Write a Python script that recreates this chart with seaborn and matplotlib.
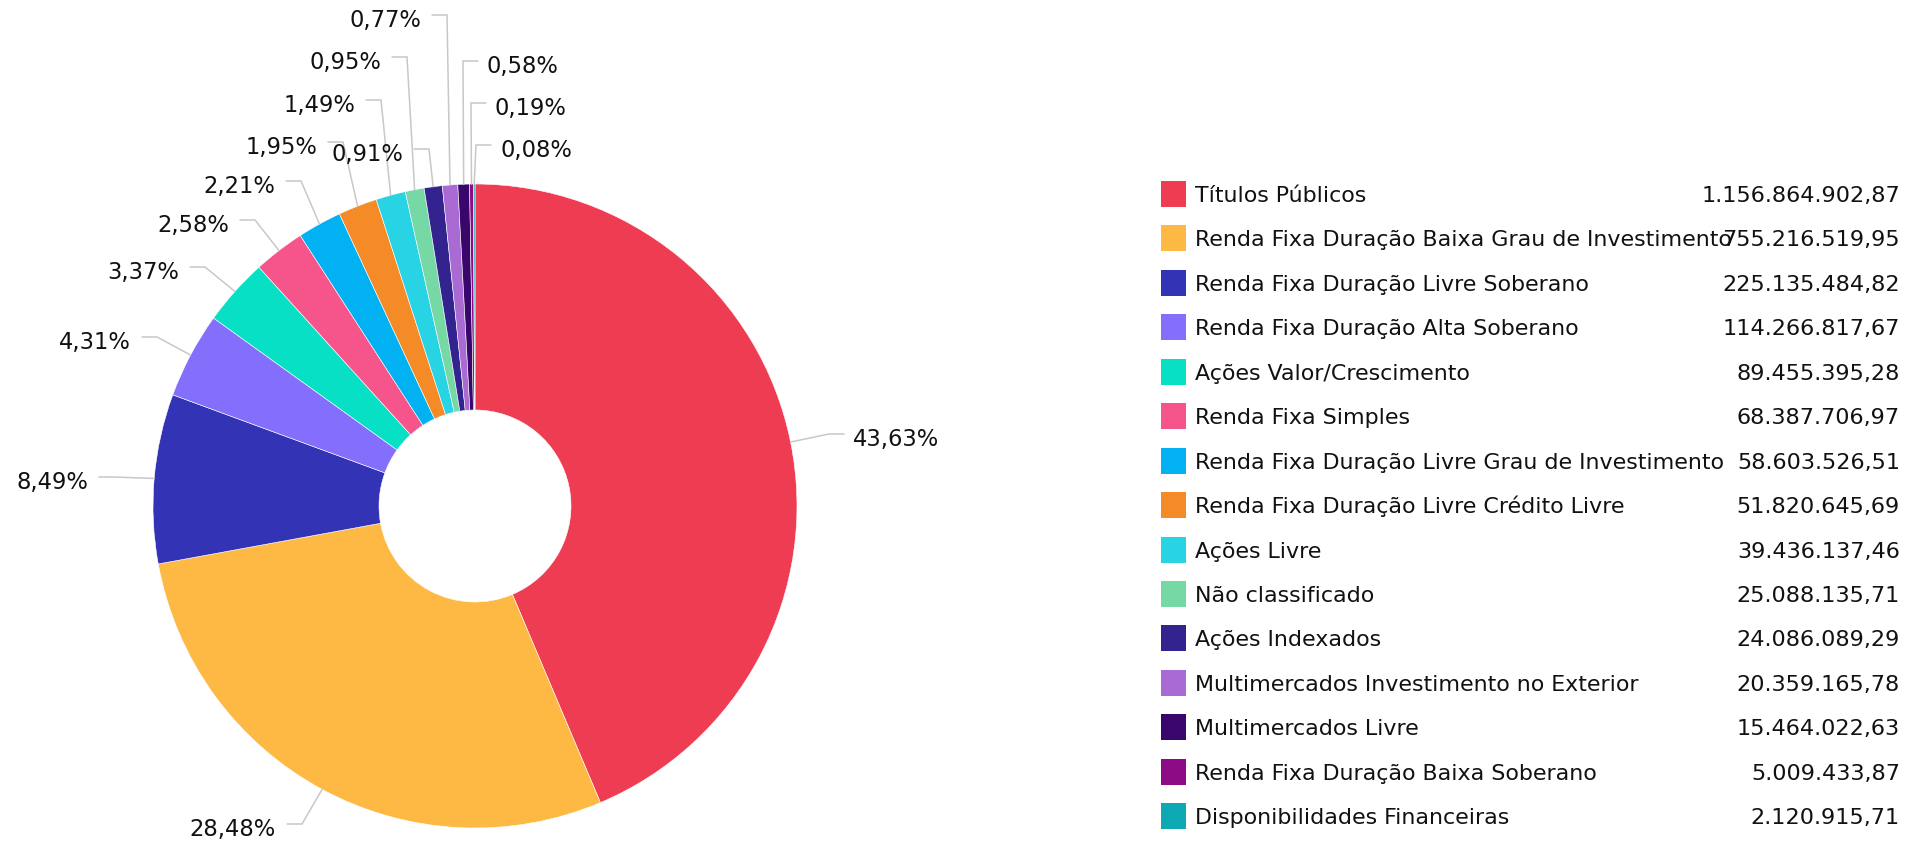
import numpy as np
import pandas as pd
import matplotlib
matplotlib.use("Agg")
import matplotlib.pyplot as plt
from matplotlib.patches import Rectangle
import seaborn as sns

# ---------------- data ----------------
categories = [
    "Títulos Públicos",
    "Renda Fixa Duração Baixa Grau de Investimento",
    "Renda Fixa Duração Livre Soberano",
    "Renda Fixa Duração Alta Soberano",
    "Ações Valor/Crescimento",
    "Renda Fixa Simples",
    "Renda Fixa Duração Livre Grau de Investimento",
    "Renda Fixa Duração Livre Crédito Livre",
    "Ações Livre",
    "Não classificado",
    "Ações Indexados",
    "Multimercados Investimento no Exterior",
    "Multimercados Livre",
    "Renda Fixa Duração Baixa Soberano",
    "Disponibilidades Financeiras",
]
values = [
    1156864902.87, 755216519.95, 225135484.82, 114266817.67, 89455395.28,
    68387706.97, 58603526.51, 51820645.69, 39436137.46, 25088135.71,
    24086089.29, 20359165.78, 15464022.63, 5009433.87, 2120915.71,
]
colors = [
    "#ee3d53", "#feb945", "#3333b5", "#836ffb", "#07e0c5",
    "#f6558b", "#02b1f2", "#f58b27", "#28d4e4", "#76d8a5",
    "#33238f", "#a96ad3", "#39076b", "#8d0b85", "#0ea8b4",
]

# ---------------- layout (pixels, y measured from top) ----------------
W, H = 1928, 841
CX, CY, R_OUT, R_IN = 475, 506, 322, 96
label_ends = [
    (844, 434), (287, 824), (99, 477), (142, 337), (190, 267),
    (240, 220), (286, 181), (328, 142), (366, 100), (392, 57),
    (414, 149), (432, 15), (478, 61), (486, 103), (491, 145),
]
label_sides = ["R", "L", "L", "L", "L", "L", "L", "L", "L", "L", "L", "L", "R", "R", "R"]
LEG_X, LEG_Y0, LEG_DY = 1161, 194, 44.44
NUM_X = 1900
FS_PCT, FS_NAME, FS_NUM = 16.3, 15.9, 16.1

df = pd.DataFrame({"categoria": categories, "valor": values, "cor": colors})
df["pct"] = df["valor"] / df["valor"].sum() * 100


def br_num(v):
    s = f"{v:,.2f}"
    return s.replace(",", "X").replace(".", ",").replace("X", ".")


sns.set_theme(style="white")
plt.rcParams["font.family"] = ["DejaVu Sans"]

fig = plt.figure(figsize=(W / 100, H / 100), dpi=100)
fig.patch.set_facecolor("white")
ax = fig.add_axes([0, 0, 1, 1])

wedges, _ = ax.pie(
    df["valor"], colors=df["cor"], startangle=90, counterclock=False,
    center=(CX, H - CY), radius=R_OUT,
    wedgeprops=dict(width=R_OUT - R_IN, edgecolor="white", linewidth=0.4),
)
ax.set_xlim(0, W)
ax.set_ylim(0, H)
ax.set_aspect("equal")
ax.axis("off")

# data labels with connectors
for w, p, (ex, ey), side in zip(wedges, df["pct"], label_ends, label_sides):
    mid = np.deg2rad((w.theta1 + w.theta2) / 2)
    ax_x = CX + R_OUT * np.cos(mid)
    ax_y = (H - CY) + R_OUT * np.sin(mid)
    bx = ex + 15 if side == "L" else ex - 15
    ax.plot([ax_x, bx, ex], [ax_y, H - ey, H - ey], color="#c8c8c8", lw=1.1,
            solid_joinstyle="miter", zorder=1)
    txt = f"{p:.2f}".replace(".", ",") + "%"
    if side == "L":
        ax.text(ex - 11, H - ey - 12, txt, ha="right", va="baseline",
                fontsize=FS_PCT, color="#111111")
    else:
        ax.text(ex + 9, H - ey - 12, txt, ha="left", va="baseline",
                fontsize=FS_PCT, color="#111111")

# legend
for i, row in df.iterrows():
    yc = LEG_Y0 + i * LEG_DY
    ax.add_patch(Rectangle((LEG_X, H - yc - 13), 25, 26, facecolor=row["cor"],
                           edgecolor="none"))
    ax.text(LEG_X + 34, H - yc - 8, row["categoria"], ha="left", va="baseline",
            fontsize=FS_NAME, color="#111111")
    ax.text(NUM_X, H - yc - 8, br_num(row["valor"]), ha="right", va="baseline",
            fontsize=FS_NUM, color="#111111")

fig.savefig("out.png", dpi=100, facecolor="white")
